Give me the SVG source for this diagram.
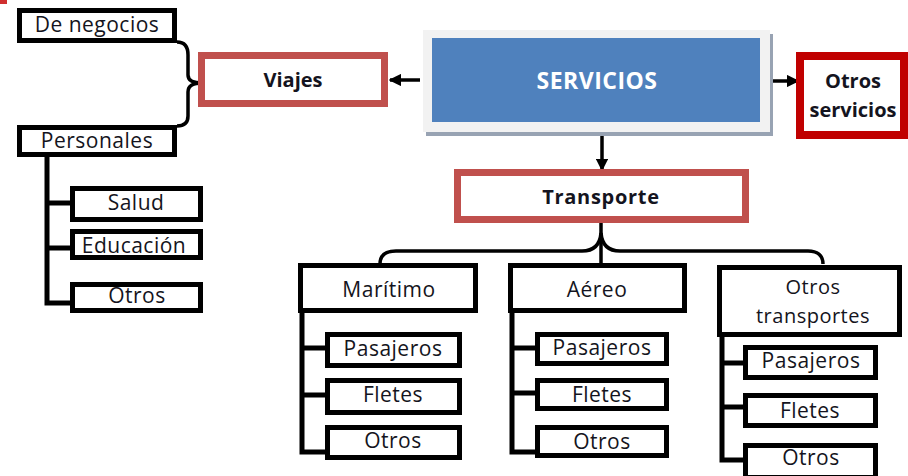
<svg xmlns="http://www.w3.org/2000/svg" width="908" height="476" viewBox="0 0 908 476">
<style>
.b{fill:#fff;stroke:#000;stroke-width:5}
.r{fill:#fff;stroke:#C0504D;stroke-width:7}
.t{font-family:"Open Sans","Liberation Sans",sans-serif;font-size:21px;fill:#141420;text-anchor:middle;letter-spacing:0.5px}
.tb{font-family:"Open Sans","Liberation Sans",sans-serif;font-size:20px;font-weight:bold;fill:#141420;text-anchor:middle}
.ln{fill:none;stroke:#000;stroke-width:5}
.br{fill:none;stroke:#000;stroke-width:3.5}
.ar{fill:none;stroke:#000;stroke-width:3.5}
</style>
<defs>
<marker id="ah" viewBox="0 0 10 10" refX="9" refY="5" markerWidth="3.6" markerHeight="3.6" orient="auto" markerUnits="strokeWidth">
<path d="M0,0 L10,5 L0,10 z" fill="#000"/>
</marker>
</defs>
<rect x="0" y="0" width="7" height="4" fill="#D03030"/>
<g id="connectors">
<path class="ar" d="M420,80 H390" marker-end="url(#ah)"/>
<path class="ar" d="M773,81 H798" marker-end="url(#ah)"/>
<path class="ar" d="M602,136 V170" marker-end="url(#ah)"/>
<path class="br" d="M177,42 C185,42 188,47 188,55 V75 C188,80 193,83 202,83 C193,83 188,86 188,92 V116 C188,122 185,126 177,126"/>
<path class="br" d="M380,264 C380,254 387,251 396,251 H582 C594,251 600,245 601,233 C602,245 608,251 620,251 H808 C817,251 823,255 823,264"/>
<path class="br" d="M601,223 V266"/>
<path class="ln" d="M47,155 V303 H72 M47,203 H72 M47,248 H72"/>
<path class="ln" d="M302,313 V452 H327 M302,348 H327 M302,395 H327"/>
<path class="ln" d="M512,313 V452 H537 M512,348 H537 M512,393 H537"/>
<path class="ln" d="M722,337 V460 H745 M722,363 H745 M722,407 H745"/>
</g>
<g id="servicios">
<rect x="426" y="34" width="347" height="102" fill="#98A3B3"/>
<rect x="423" y="30" width="347" height="102" fill="#F2F2F2"/>
<rect x="432" y="38" width="328" height="84" fill="#4F81BD"/>
<text x="597" y="89" class="tb" style="fill:#fff;font-size:23px;letter-spacing:0.5px">SERVICIOS</text>
</g>
<g id="viajes">
<rect class="r" x="201.5" y="55.5" width="183" height="48"/>
<text x="293" y="87" class="tb">Viajes</text>
</g>
<g id="otros-servicios">
<rect x="800" y="56" width="104" height="79" fill="#fff" stroke="#C00000" stroke-width="8"/>
<text x="853" y="88" class="tb">Otros</text>
<text x="853" y="117" class="tb">servicios</text>
</g>
<g id="transporte">
<rect class="r" x="457.5" y="172.5" width="288" height="47"/>
<text x="601" y="204" class="tb" style="letter-spacing:0.7px">Transporte</text>
</g>
<g id="de-negocios">
<rect class="b" x="19.5" y="10.5" width="155" height="30"/>
<text x="97" y="32" class="t">De negocios</text>
</g>
<g id="personales">
<rect class="b" x="19.5" y="127.5" width="155" height="27"/>
<text x="97" y="148" class="t">Personales</text>
</g>
<g id="salud">
<rect class="b" x="72.5" y="188.5" width="128" height="31"/>
<text x="136" y="210" class="t">Salud</text>
</g>
<g id="educacion">
<rect class="b" x="72.5" y="231.5" width="128" height="26"/>
<text x="134" y="253" class="t">Educación</text>
</g>
<g id="otros-viajes">
<rect class="b" x="72.5" y="284.5" width="128" height="26"/>
<text x="137" y="303" class="t">Otros</text>
</g>
<g id="maritimo">
<rect class="b" x="300.5" y="265.5" width="175" height="45"/>
<text x="389" y="297" class="t">Marítimo</text>
</g>
<g id="m-pasajeros">
<rect class="b" x="327.5" y="334.5" width="132" height="31"/>
<text x="393" y="356" class="t">Pasajeros</text>
</g>
<g id="m-fletes">
<rect class="b" x="327.5" y="380.5" width="132" height="32"/>
<text x="393" y="402" class="t">Fletes</text>
</g>
<g id="m-otros">
<rect class="b" x="327.5" y="427.5" width="132" height="30"/>
<text x="393" y="448" class="t">Otros</text>
</g>
<g id="aereo">
<rect class="b" x="510.5" y="265.5" width="174" height="45"/>
<text x="597" y="297" class="t">Aéreo</text>
</g>
<g id="a-pasajeros">
<rect class="b" x="537.5" y="334.5" width="129" height="29"/>
<text x="602" y="355" class="t">Pasajeros</text>
</g>
<g id="a-fletes">
<rect class="b" x="537.5" y="380.5" width="129" height="28"/>
<text x="602" y="402" class="t">Fletes</text>
</g>
<g id="a-otros">
<rect class="b" x="537.5" y="427.5" width="129" height="28"/>
<text x="602" y="449" class="t">Otros</text>
</g>
<g id="otros-transportes">
<rect class="b" x="719.5" y="267.5" width="180" height="67"/>
<text x="813" y="294" class="t" style="font-size:20px">Otros</text>
<text x="813" y="323" class="t" style="font-size:20px">transportes</text>
</g>
<g id="ot-pasajeros">
<rect class="b" x="745.5" y="347.5" width="130" height="30"/>
<text x="811" y="368" class="t">Pasajeros</text>
</g>
<g id="ot-fletes">
<rect class="b" x="745.5" y="395.5" width="130" height="30"/>
<text x="810" y="418" class="t">Fletes</text>
</g>
<g id="ot-otros">
<rect class="b" x="745.5" y="445.5" width="130" height="32"/>
<text x="811" y="465" class="t">Otros</text>
</g>
</svg>
